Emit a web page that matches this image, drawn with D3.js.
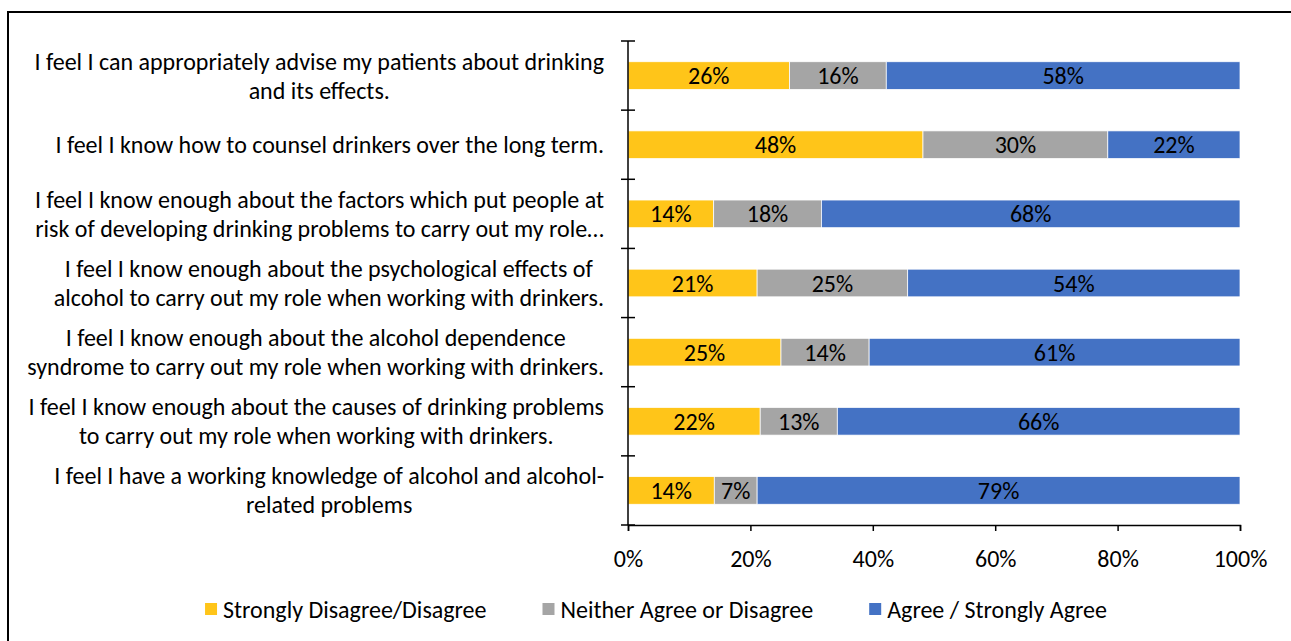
<!DOCTYPE html>
<html>
<head>
<meta charset="utf-8">
<script src="https://cdn.jsdelivr.net/npm/d3@7"></script>
<style>
  html, body { margin: 0; padding: 0; background: #fff; }
  svg { display: block; }
  text { font-family: Carlito, "Open Sans", sans-serif; fill: #000; }
</style>
</head>
<body>
<svg id="chart" width="1291" height="641"></svg>
<script>
const categories = [
  ["I feel I can appropriately advise my patients about drinking", "and its effects."],
  ["I feel I know how to counsel drinkers over the long term."],
  ["I feel I know enough about the factors which put people at", "risk of developing drinking problems to carry out my role…"],
  ["I feel I know enough about the psychological effects of", "alcohol to carry out my role when working with drinkers."],
  ["I feel I know enough about the alcohol dependence", "syndrome to carry out my role when working with drinkers."],
  ["I feel I know enough about the causes of drinking problems", "to carry out my role when working with drinkers."],
  ["I feel I have a working knowledge of alcohol and alcohol-", "related problems"]
];
const seriesNames = ["Strongly Disagree/Disagree", "Neither Agree or Disagree", "Agree / Strongly Agree"];
const disagree = [26.4, 48.2, 14.0, 21.1, 25.0, 21.6, 14.1];
const neither  = [15.8, 30.2, 17.6, 24.6, 14.4, 12.6, 7.0];
const agree    = [57.8, 21.6, 68.4, 54.3, 60.6, 65.8, 78.9];
const xTicks = [0, 20, 40, 60, 80, 100];
const colors = ["#FFC519", "#A5A5A5", "#4472C4"];

const svg = d3.select("#chart");
const fontSize = 24;

// outer frame
svg.append("rect").attr("x", 8).attr("y", 12).attr("width", 1300).attr("height", 640)
  .attr("fill", "none").attr("stroke", "#000").attr("stroke-width", 2);

const margin = { left: 628, right: 1240, top: 41, bottom: 525 };
const x = d3.scaleLinear().domain([0, 100]).range([margin.left, margin.right]);
const y = d3.scaleBand().domain(d3.range(categories.length))
  .range([margin.top, margin.bottom]).paddingInner(0.6).paddingOuter(0.3);

const rows = categories.map((c, i) => ({ i, vals: [disagree[i], neither[i], agree[i]] }));
const stackData = rows.map(r => { const o = { i: r.i }; r.vals.forEach((v, k) => o["s" + k] = v); return o; });
const stack = d3.stack().keys(["s0", "s1", "s2"])(stackData);

const g = svg.append("g");
stack.forEach((layer, k) => {
  const lg = g.append("g");
  lg.selectAll("rect").data(layer).join("rect")
    .attr("x", d => x(d[0]))
    .attr("y", d => y(d.data.i))
    .attr("width", d => x(d[1]) - x(d[0]))
    .attr("height", y.bandwidth())
    .attr("fill", colors[k])
    .attr("stroke", "#fff").attr("stroke-width", 0.75);
  lg.selectAll("text").data(layer).join("text")
    .attr("x", d => (x(d[0]) + x(d[1])) / 2)
    .attr("y", d => y(d.data.i) + y.bandwidth() / 2)
    .attr("text-anchor", "middle").attr("dominant-baseline", "central")
    .attr("font-size", fontSize)
    .text(d => Math.round(d[1] - d[0]) + "%");
});

// x axis
const xAxis = d3.axisBottom(x).tickValues(xTicks).tickFormat(d => d + "%").tickSize(6).tickSizeOuter(6);
const xg = svg.append("g").attr("transform", `translate(0,${margin.bottom})`).call(xAxis);
xg.select(".domain").attr("stroke", "#000").attr("stroke-width", 1.5);
xg.selectAll(".tick line").attr("stroke", "#000").attr("stroke-width", 1.5);
xg.selectAll(".tick text").attr("font-size", fontSize).attr("font-family", null).attr("dy", null)
  .attr("y", 33).attr("dominant-baseline", "central");

// y axis line with boundary ticks crossing
const yLine = svg.append("g");
yLine.append("line").attr("x1", margin.left).attr("x2", margin.left)
  .attr("y1", margin.top).attr("y2", margin.bottom).attr("stroke", "#000").attr("stroke-width", 1.5);
const bounds = d3.range(categories.length + 1).map(k => margin.top + k * (margin.bottom - margin.top) / categories.length);
yLine.selectAll("line.b").data(bounds).join("line").attr("class", "b")
  .attr("x1", margin.left - 7).attr("x2", margin.left + 7)
  .attr("y1", d => d).attr("y2", d => d).attr("stroke", "#000").attr("stroke-width", 1.5);

// category labels (centered block, right edge at 604)
const lineH = 29;
const labelRight = 604;
categories.forEach((lines, i) => {
  const cy = y(i) + y.bandwidth() / 2;
  const t = svg.append("text").attr("font-size", fontSize).attr("text-anchor", "middle");
  lines.forEach((ln, j) => {
    t.append("tspan").attr("y", cy + (j - (lines.length - 1) / 2) * lineH)
      .attr("dominant-baseline", "central").text(ln);
  });
  let maxW = 0;
  t.selectAll("tspan").each(function () { maxW = Math.max(maxW, this.getComputedTextLength()); });
  t.selectAll("tspan").attr("x", labelRight - maxW / 2);
});

// legend
const legendCenter = 656, legendY = 609, sq = 12, gapSq = 6, gapItem = 56;
const lg = svg.append("g");
const items = seriesNames.map((n, k) => {
  const it = lg.append("g");
  it.append("rect").attr("x", 0).attr("y", legendY - sq / 2).attr("width", sq).attr("height", sq).attr("fill", colors[k]);
  const tx = it.append("text").attr("x", sq + gapSq).attr("y", legendY).attr("dominant-baseline", "central")
    .attr("font-size", fontSize).text(n);
  return { it, w: sq + gapSq + tx.node().getComputedTextLength() };
});
const total = d3.sum(items, d => d.w) + gapItem * (items.length - 1);
let cx = legendCenter - total / 2;
items.forEach(d => { d.it.attr("transform", `translate(${cx},0)`); cx += d.w + gapItem; });
</script>
</body>
</html>
